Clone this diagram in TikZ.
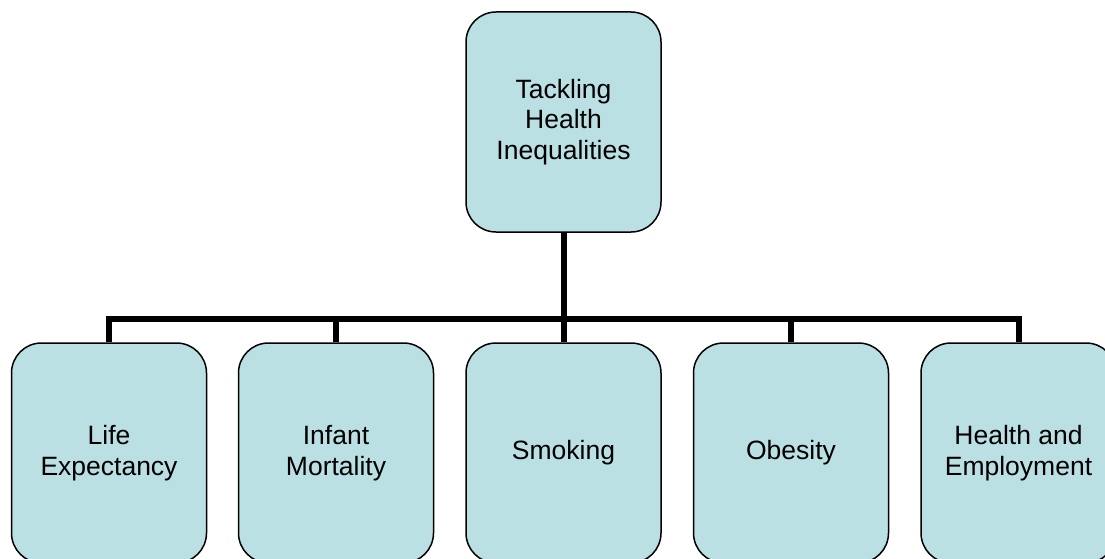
\documentclass[tikz,border=0pt]{standalone}
\usepackage{fontspec}
\setmainfont{Liberation Sans}
\usepackage{tikz}
\definecolor{Celeste}{HTML}{BBE0E3}
\begin{document}
\begin{tikzpicture}[
  x=1pt,y=-1pt,
  font=\fontsize{26.5}{30.5}\selectfont,
  caja/.style={draw=black,line width=1.5pt,fill=Celeste,rounded corners=30pt,
    minimum width=195pt,minimum height=220pt,align=center,inner sep=0pt},
  enlace/.style={line width=6pt,black}
]
  \useasboundingbox (0,0) rectangle (1105,559);
  \clip (0,0) rectangle (1105,559);
  \coordinate (barra) at (563.5,319);

  \node[caja] (tackling) at (563.5,122) {Tackling\\Health\\Inequalities};

  \node[caja] (life) at (109,453) {Life\\Expectancy};
  \node[caja] (infant) at (336,453) {Infant\\Mortality};
  \node[caja] (smoking) at (563.5,453) {Smoking};
  \node[caja] (obesity) at (791,453) {Obesity};
  \node[caja] (employ) at (1018.5,453) {Health and\\Employment};

  \draw[enlace] (tackling.south) -- (barra);
  \foreach \hijo in {life,infant,smoking,obesity,employ}
    \draw[enlace] (barra) -| (\hijo.north);
\end{tikzpicture}
\end{document}
